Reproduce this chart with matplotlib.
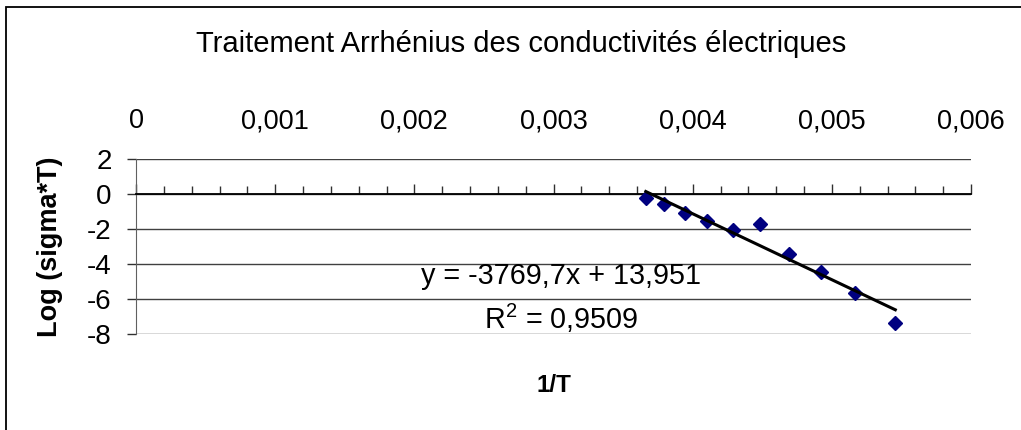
import matplotlib
matplotlib.use('Agg')
import matplotlib.pyplot as plt
from matplotlib.ticker import MultipleLocator
from matplotlib.patches import Rectangle

plt.rcParams['font.family'] = ['Liberation Sans', 'DejaVu Sans']
plt.rcParams['axes.unicode_minus'] = False
plt.rcParams['mathtext.fontset'] = 'custom'
plt.rcParams['mathtext.rm'] = 'Liberation Sans'

# 1/T (K^-1) and log(sigma*T)
inv_T = [0.003663, 0.003797, 0.003945, 0.004105, 0.004287,
         0.004487, 0.004690, 0.004919, 0.005168, 0.005456]
log_sigma_T = [-0.25, -0.58, -1.09, -1.54, -2.05,
               -1.74, -3.41, -4.43, -5.66, -7.35]

# Excel linear trendline
slope = -3769.7
intercept = 13.951
r2_text = '0,9509'

x_ticks = [0, 0.001, 0.002, 0.003, 0.004, 0.005, 0.006]
x_tick_labels = ['0', '0,001', '0,002', '0,003', '0,004', '0,005', '0,006']
y_ticks = [2, 0, -2, -4, -6, -8]

fig = plt.figure(figsize=(10.21, 4.30), dpi=100)
ax = fig.add_axes([136/1021, 1 - 334/430, 835/1021, 175/430])

ax.set_xlim(0, 0.006)
ax.set_ylim(-8, 2)

# grid and axes in the Excel look
ax.set_yticks(y_ticks)
ax.yaxis.grid(True, color='#404040', lw=1.0, zorder=0)
ax.set_axisbelow(True)
for side in ('top', 'right'):
    ax.spines[side].set_visible(False)
ax.spines['left'].set_color('#606060')
ax.spines['bottom'].set_position(('data', 0))
ax.spines['bottom'].set_linewidth(1.3)

ax.set_xticks(x_ticks)
ax.set_xticklabels(x_tick_labels)
ax.xaxis.set_minor_locator(MultipleLocator(0.0002))
ax.tick_params(axis='x', which='both', direction='in', bottom=True, top=False,
               labelbottom=False, labeltop=True, color='#303030')
ax.tick_params(axis='x', which='major', length=7, width=1, pad=18, labelsize=19.5)
ax.tick_params(axis='x', which='minor', length=5.5, width=1)
ax.tick_params(axis='y', direction='out', length=6.5, width=1, pad=11,
               labelsize=20, color='#303030')

# data + trendline
ax.plot(inv_T, log_sigma_T, 'D', color='#000080', markersize=7.5, zorder=3)
x0, x1 = min(inv_T), max(inv_T)
ax.plot([x0, x1], [slope*x0 + intercept, slope*x1 + intercept],
        color='black', lw=2.2, zorder=4)

ax.text(0.003054, -5.14, 'y = -3769,7x + 13,951', ha='center', va='baseline', fontsize=20.7)
ax.text(0.003054, -7.71, 'R$^{2}$ = ' + r2_text, ha='center', va='baseline', fontsize=20.7)

ax.set_xlabel('1/T', fontsize=17.5, fontweight='bold', va='center')
ax.xaxis.set_label_coords(0.5, -0.297)
ax.set_ylabel('Log (sigma*T)', fontsize=19.5, fontweight='bold', va='center')
ax.yaxis.set_label_coords(-0.103, 0.5)

fig.text(521/1021, 1 - 52/430, 'Traitement Arrhénius des conductivités électriques',
         ha='center', va='baseline', fontsize=21)

# chart frame (only top and left edges are inside the picture)
fig.add_artist(Rectangle((6/1021, -0.1), 1.2, 1 - 7/430 + 0.1, fill=False,
                         lw=1.3, edgecolor='black', transform=fig.transFigure))

fig.savefig('out.png', dpi=100)
